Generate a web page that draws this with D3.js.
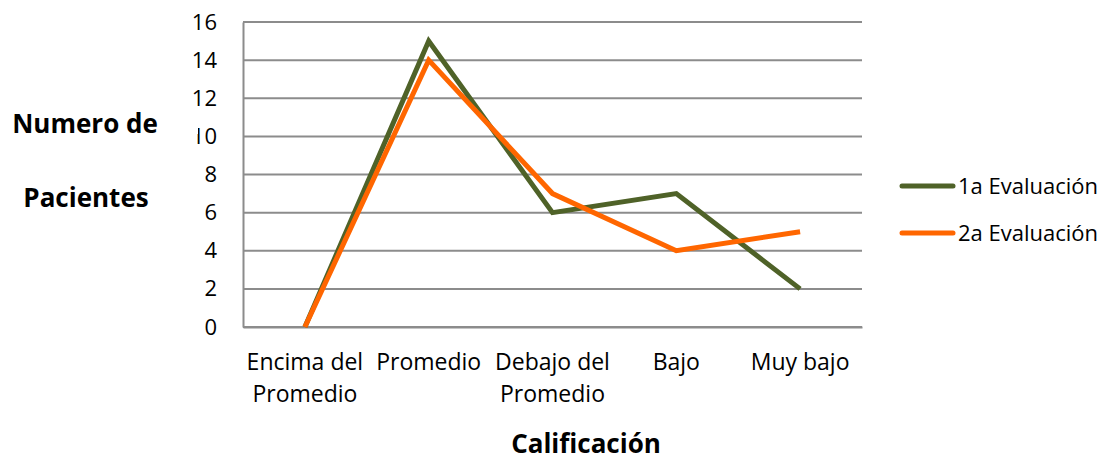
<!DOCTYPE html>
<html>
<head>
<meta charset="utf-8">
<script src="https://cdn.jsdelivr.net/npm/d3@7"></script>
<style>
  body { margin: 0; background: #fff; }
  svg { display: block; font-family: "Open Sans", sans-serif; }
</style>
</head>
<body>
<div id="chart"></div>
<script>
const categories = [['Encima del', 'Promedio'], ['Promedio'], ['Debajo del', 'Promedio'], ['Bajo'], ['Muy bajo']]
const seriesNames = ['1a Evaluación', '2a Evaluación']
const primera = [0, 15, 6, 7, 2]
const segunda = [0, 14, 7, 4, 5]
const yTicks = [0, 2, 4, 6, 8, 10, 12, 14, 16]
const colors = ['#4f6228', '#ff6600']

const width = 1111
const height = 461
const plot = { left: 243, right: 862, top: 22, bottom: 327 }

const svg = d3.select('#chart').append('svg')
  .attr('width', width)
  .attr('height', height)

const scaleX = d3.scaleBand()
  .domain(d3.range(categories.length))
  .range([plot.left, plot.right])

const scaleY = d3.scaleLinear()
  .domain([0, 16])
  .range([plot.bottom, plot.top])

// gridlines
svg.append('g')
  .selectAll('line')
  .data(yTicks)
  .join('line')
  .attr('x1', plot.left)
  .attr('x2', plot.right)
  .attr('y1', d => scaleY(d))
  .attr('y2', d => scaleY(d))
  .attr('stroke', '#8c8c8c')
  .attr('stroke-width', 2)

// y axis
const axisLeft = d3.axisLeft(scaleY).tickValues(yTicks).tickSize(0).tickPadding(26)
const gy = svg.append('g')
  .attr('transform', `translate(${plot.left},0)`)
  .call(axisLeft)
gy.select('.domain').attr('stroke', '#8c8c8c').attr('stroke-width', 2)
gy.selectAll('text')
  .attr('font-size', 22)
  .attr('fill', '#000')
  .attr('font-family', '"Open Sans", sans-serif')

// x axis
const axisBottom = d3.axisBottom(scaleX).tickSize(0).tickFormat('')
const gx = svg.append('g')
  .attr('transform', `translate(0,${plot.bottom})`)
  .call(axisBottom)
gx.select('.domain').attr('stroke', '#8c8c8c').attr('stroke-width', 2)

const catLabels = svg.append('g')
  .selectAll('text')
  .data(categories)
  .join('text')
  .attr('text-anchor', 'middle')
  .attr('font-size', 23)
  .attr('fill', '#000')
  .attr('transform', (d, i) => `translate(${scaleX(i) + scaleX.bandwidth() / 2},${plot.bottom + 43})`)

catLabels.selectAll('tspan')
  .data(d => d)
  .join('tspan')
  .attr('x', 0)
  .attr('dy', (d, i) => i === 0 ? 0 : 32)
  .text(d => d)

// lines
const line = d3.line()
  .x((d, i) => scaleX(i) + scaleX.bandwidth() / 2)
  .y(d => scaleY(d))

svg.append('g')
  .selectAll('path')
  .data([primera, segunda])
  .join('path')
  .attr('d', line)
  .attr('fill', 'none')
  .attr('stroke', (d, i) => colors[i])
  .attr('stroke-width', 5)
  .attr('stroke-linejoin', 'miter')

// y title, its box covers part of the "10"
const yTitle = svg.append('g')
yTitle.append('rect')
  .attr('x', 0).attr('y', 110)
  .attr('width', 198).attr('height', 24)
  .attr('fill', '#fff')
yTitle.append('text')
  .attr('x', 85).attr('y', 133)
  .attr('text-anchor', 'middle')
  .attr('font-size', 26)
  .attr('font-weight', 'bold')
  .text('Numero de')
yTitle.append('text')
  .attr('x', 86).attr('y', 207)
  .attr('text-anchor', 'middle')
  .attr('font-size', 26)
  .attr('font-weight', 'bold')
  .text('Pacientes')

// x title
svg.append('text')
  .attr('x', 586).attr('y', 453)
  .attr('text-anchor', 'middle')
  .attr('font-size', 26)
  .attr('font-weight', 'bold')
  .text('Calificación')

// legend
const legend = svg.append('g')
  .attr('transform', 'translate(902,186)')
const item = legend.selectAll('g')
  .data(seriesNames)
  .join('g')
  .attr('transform', (d, i) => `translate(0,${i * 47})`)
item.append('line')
  .attr('x1', 0).attr('x2', 51)
  .attr('stroke', (d, i) => colors[i])
  .attr('stroke-width', 5)
  .attr('stroke-linecap', 'round')
item.append('text')
  .attr('x', 56).attr('y', 8)
  .attr('font-size', 22)
  .text(d => d)
</script>
</body>
</html>
